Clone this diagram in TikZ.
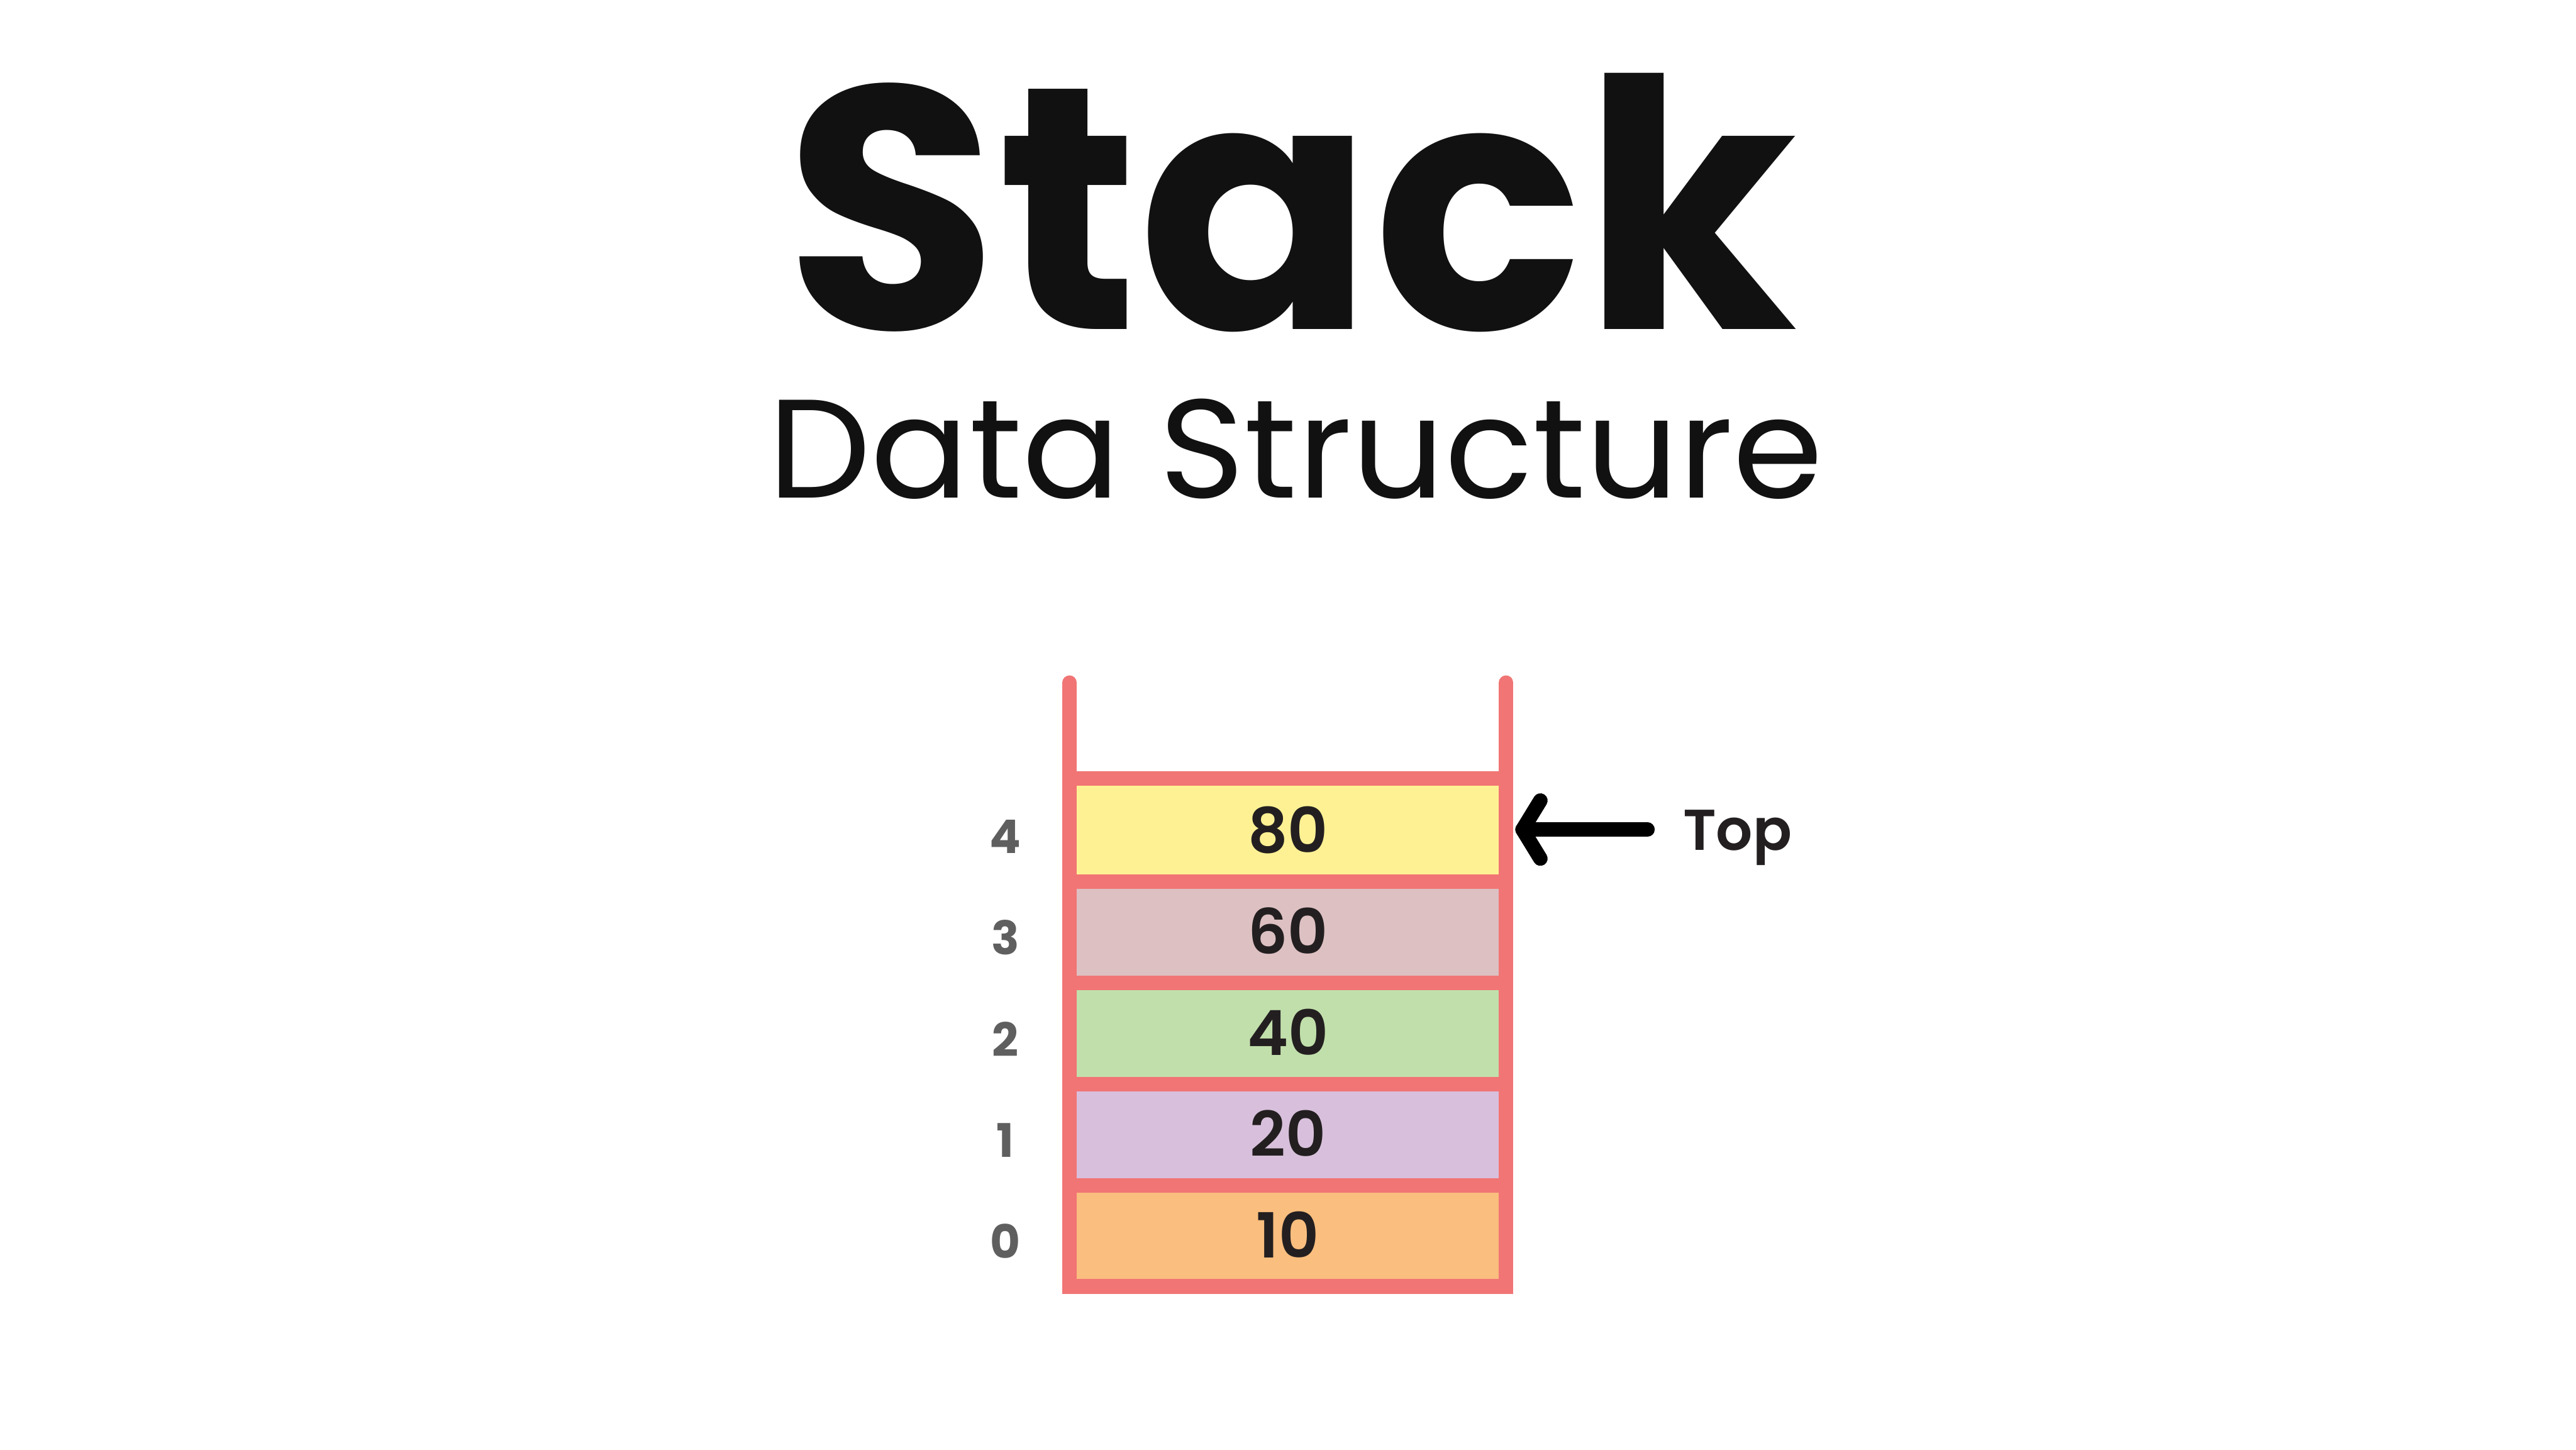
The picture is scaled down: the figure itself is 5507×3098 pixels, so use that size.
\documentclass[tikz,border=0pt]{standalone}
\usepackage{fontspec}
\usepackage{graphicx}
\setmainfont{Poppins}
\newfontfamily\psemi{Poppins SemiBold}
\usetikzlibrary{calc}
\definecolor{framecol}{HTML}{F17575}
\definecolor{c4col}{HTML}{FEF194}
\definecolor{c3col}{HTML}{DDC0C2}
\definecolor{c2col}{HTML}{C1DFAB}
\definecolor{c1col}{HTML}{D8C0DC}
\definecolor{c0col}{HTML}{FABE7E}
\definecolor{numcol}{HTML}{231F20}
\definecolor{idxcol}{HTML}{5F5F5F}
\definecolor{titlecol}{HTML}{111111}
\tikzset{
  cell/.style={rectangle, draw=none, inner sep=0pt, minimum width=92.95pt, minimum height=21.64pt,
    font=\psemi\fontsize{13.3}{16}\selectfont, text=numcol},
  idx/.style={inner sep=0pt, font=\bfseries\fontsize{9.9}{12}\selectfont, text=idxcol},
  bar/.style={draw=framecol, line width=3.1pt, line cap=rect},
  wall/.style={draw=framecol, line width=3.1pt, line cap=round},
  topline/.style={draw=black, line width=3.1pt, line cap=round, line join=round},
}
\begin{document}
\begin{tikzpicture}[x=0.1pt,y=-0.1pt]
\useasboundingbox[fill=white] (0,0) rectangle (5507,3098);
% title
\node[anchor=base, inner sep=0pt, text=titlecol, font=\bfseries\fontsize{74}{80}\selectfont] (title) at (2760,704) {Stack};
\node[anchor=base, inner sep=0pt, text=titlecol, font=\fontsize{30}{36}\selectfont] (subtitle) at (2770,1064) {\scalebox{1.036}[1]{Data Structure}};
% cells
\node[cell, fill=c4col] (c4) at (2753.25,1773.7) {80};
\node[cell, fill=c3col] (c3) at (2753.25,1990.1) {60};
\node[cell, fill=c2col] (c2) at (2753.25,2206.5) {40};
\node[cell, fill=c1col] (c1) at (2753.25,2422.9) {20};
\node[cell, fill=c0col] (c0) at (2753.25,2639.3) {10};
% frame bars
\draw[bar] (c4.north west) -- (c4.north east);
\draw[bar] (c4.south west) -- (c4.south east);
\draw[bar] (c3.south west) -- (c3.south east);
\draw[bar] (c2.south west) -- (c2.south east);
\draw[bar] (c1.south west) -- (c1.south east);
\draw[bar] (c0.south west) -- (c0.south east);
% walls
\coordinate (wl) at ($(c4.north west)+(0,-204.5)$);
\coordinate (wr) at ($(c4.north east)+(0,-204.5)$);
\draw[wall] (wl) -- (c0.south west);
\draw[wall] (wr) -- (c0.south east);
% indices
\node[idx] (i4) at ($(c4.west)+(-137.5,14)$) {4};
\node[idx] (i3) at ($(c3.west)+(-137.5,14)$) {3};
\node[idx] (i2) at ($(c2.west)+(-137.5,14)$) {2};
\node[idx] (i1) at ($(c1.west)+(-137.5,14)$) {1};
\node[idx] (i0) at ($(c0.west)+(-137.5,14)$) {0};
% top pointer
\node[anchor=base west, inner sep=0pt, text=numcol, font=\psemi\fontsize{12.3}{15}\selectfont] (toplbl) at (3596,1817) {Top};
\coordinate (arrtail) at (3522,1773);
\coordinate (arrtip) at (3255,1773);
\draw[topline] (arrtail) -- (arrtip);
\draw[topline] ($(arrtip)+(38,-62)$) -- (arrtip) -- ($(arrtip)+(38,62)$);
\end{tikzpicture}
\end{document}
